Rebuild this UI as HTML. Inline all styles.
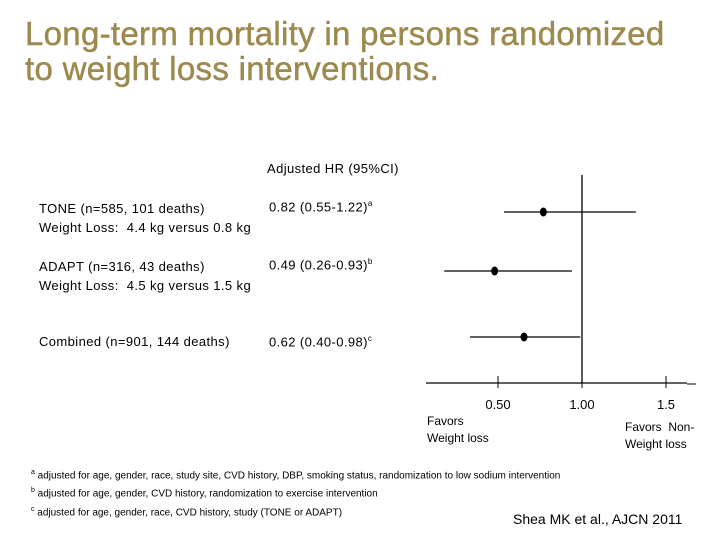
<!DOCTYPE html>
<html><head><meta charset="utf-8"><style>
body{margin:0;width:720px;height:540px;background:#fff;position:relative;overflow:hidden;font-family:"Liberation Sans",sans-serif}
.t{position:absolute;white-space:nowrap;color:#000}
h1{position:absolute;left:25px;top:16px;margin:0;font-size:33px;line-height:35px;font-weight:normal;letter-spacing:0.3px;color:#9c8a4f;-webkit-text-stroke:0.5px #9c8a4f}
.s{font-size:13px;letter-spacing:0.4px}
.f{font-size:10px}
</style></head><body>
<h1>Long-term mortality in persons randomized<br>to weight loss interventions.</h1>
<div class="t s" style="left:267px;top:161px">Adjusted HR (95%CI)</div>
<div class="t s" style="left:39px;top:199px;line-height:19px">TONE (n=585, 101 deaths)<br>Weight Loss:&nbsp; 4.4 kg versus 0.8 kg</div>
<div class="t s" style="left:269px;top:199px">0.82 (0.55-1.22)<sup style="font-size:8px">a</sup></div>
<div class="t s" style="left:39px;top:257px;line-height:19px">ADAPT (n=316, 43 deaths)<br>Weight Loss:&nbsp; 4.5 kg versus 1.5 kg</div>
<div class="t s" style="left:269px;top:257px">0.49 (0.26-0.93)<sup style="font-size:8px">b</sup></div>
<div class="t s" style="left:39px;top:334px">Combined (n=901, 144 deaths)</div>
<div class="t s" style="left:269px;top:334px">0.62 (0.40-0.98)<sup style="font-size:8px">c</sup></div>
<svg id="c" width="720" height="540" style="position:absolute;left:0;top:0"></svg>
<div class="t f" style="left:427px;top:413px;font-size:12px;line-height:17px">Favors<br>Weight loss</div>
<div class="t f" style="left:625px;top:419px;font-size:12px;line-height:17px">Favors&nbsp; Non-<br>Weight loss</div>
<div class="t f" style="left:31px;top:465px;line-height:15px"><sup style="font-size:7px">a</sup> adjusted for age, gender, race, study site, CVD history, DBP, smoking status, randomization to low sodium intervention<br><sup style="font-size:7px">b</sup> adjusted for age, gender, CVD history, randomization to exercise intervention<br><sup style="font-size:7px">c</sup> adjusted for age, gender, race, CVD history, study (TONE or ADAPT)</div>
<div class="t" style="left:513px;top:511px;font-size:14px">Shea MK et al., AJCN 2011</div>
<script>
const studies=["TONE","ADAPT","Combined"];
const points=[0.77,0.48,0.655];
const lows=[0.536,0.18,0.333];
const highs=[1.32,0.94,0.99];
const ticks=[0.5,1.0,1.5];
const tickLabels=["0.50","1.00","1.5"];
const rowY=[212,271,337];
const x=v=>414+168*v;
const svg=document.getElementById('c');
const NS='http://www.w3.org/2000/svg';
function mk(t,a){const e=document.createElementNS(NS,t);for(const k in a)e.setAttribute(k,a[k]);svg.appendChild(e);return e;}
let e=mk('line',{x1:426,y1:383,x2:687,y2:383,stroke:'#000','stroke-width':1.3});


e=mk('line',{x1:687,y1:384,x2:696,y2:384,stroke:'#000','stroke-width':1});


e=mk('line',{x1:x(1),y1:175,x2:x(1),y2:383,stroke:'#000','stroke-width':1.3});


ticks.forEach((t,i)=>{
 let l=mk('line',{x1:x(t),y1:376,x2:x(t),y2:388,stroke:'#000','stroke-width':1});
 
 
 let tx=mk('text',{x:x(t),y:409,'text-anchor':'middle','font-size':13,'font-family':'Liberation Sans, sans-serif'});
 tx.textContent=tickLabels[i];
 
 
});
studies.forEach((s,i)=>{
 let l=mk('line',{x1:x(lows[i]),y1:rowY[i],x2:x(highs[i]),y2:rowY[i],stroke:'#000','stroke-width':1.3});
 
 
 let p=mk('ellipse',{cx:x(points[i]),cy:rowY[i],rx:3.5,ry:4.5,fill:'#000'});
 
 
});
</script>
</body></html>
